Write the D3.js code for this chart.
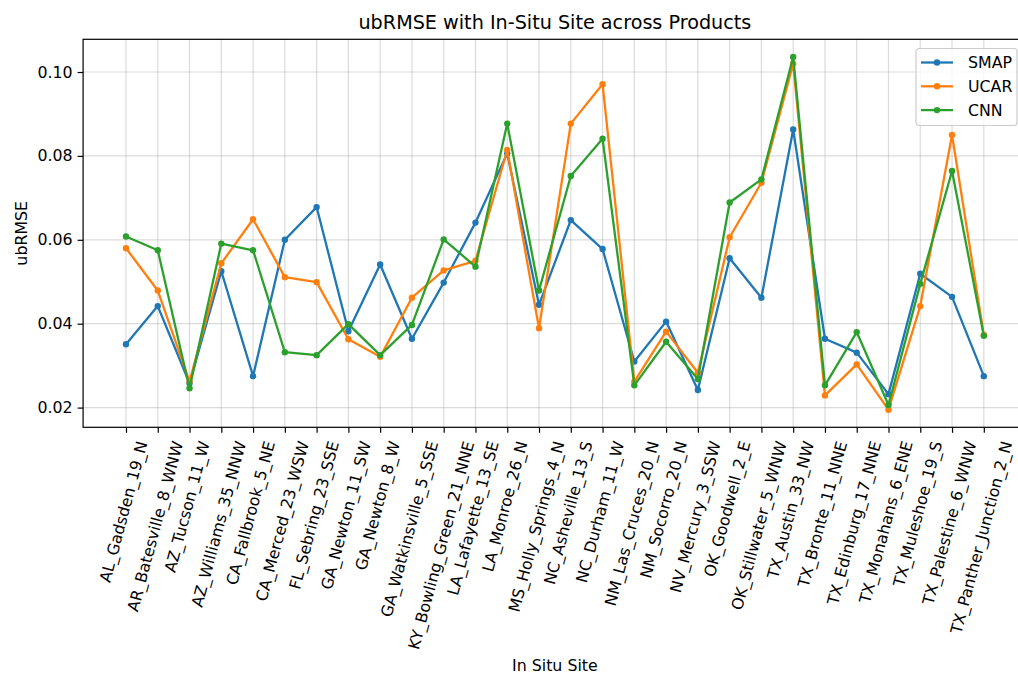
<!DOCTYPE html>
<html>
<head>
<meta charset="utf-8">
<script src="https://cdn.jsdelivr.net/npm/d3@7"></script>
<style>
body { margin: 0; background: #fff; }
text { font-family: "DejaVu Sans", sans-serif; fill: #000; }
</style>
</head>
<body>
<div id="chart"></div>
<script>
var sites = ["AL_Gadsden_19_N", "AR_Batesville_8_WNW", "AZ_Tucson_11_W", "AZ_Williams_35_NNW",
    "CA_Fallbrook_5_NE", "CA_Merced_23_WSW", "FL_Sebring_23_SSE", "GA_Newton_11_SW",
    "GA_Newton_8_W", "GA_Watkinsville_5_SSE", "KY_Bowling_Green_21_NNE", "LA_Lafayette_13_SE",
    "LA_Monroe_26_N", "MS_Holly_Springs_4_N", "NC_Asheville_13_S", "NC_Durham_11_W",
    "NM_Las_Cruces_20_N", "NM_Socorro_20_N", "NV_Mercury_3_SSW", "OK_Goodwell_2_E",
    "OK_Stillwater_5_WNW", "TX_Austin_33_NW", "TX_Bronte_11_NNE", "TX_Edinburg_17_NNE",
    "TX_Monahans_6_ENE", "TX_Muleshoe_19_S", "TX_Palestine_6_WNW", "TX_Panther_Junction_2_N"];

var smap = [0.0351, 0.0442, 0.0258, 0.0525, 0.0275, 0.0600, 0.0678, 0.0382, 0.0541, 0.0364,
    0.0498, 0.0641, 0.0806, 0.0445, 0.0647, 0.0578, 0.0310, 0.0405, 0.0242, 0.0556,
    0.0462, 0.0863, 0.0364, 0.0331, 0.0232, 0.0519, 0.0464, 0.0275];
var ucar = [0.0580, 0.0479, 0.0262, 0.0544, 0.0649, 0.0511, 0.0499, 0.0363, 0.0321, 0.0462,
    0.0527, 0.0550, 0.0814, 0.0389, 0.0877, 0.0971, 0.0262, 0.0381, 0.0283, 0.0606,
    0.0736, 0.1020, 0.0229, 0.0303, 0.0195, 0.0442, 0.0850, 0.0373];
var cnn = [0.0608, 0.0575, 0.0246, 0.0591, 0.0575, 0.0332, 0.0325, 0.0399, 0.0325, 0.0397,
    0.0601, 0.0536, 0.0877, 0.0479, 0.0752, 0.0841, 0.0253, 0.0357, 0.0268, 0.0689,
    0.0744, 0.1036, 0.0253, 0.0380, 0.0206, 0.0495, 0.0764, 0.0371];

var seriesNames = ["SMAP", "UCAR", "CNN"];
var seriesValues = [smap, ucar, cnn];
var colors = ["#1f77b4", "#ff7f0e", "#2ca02c"];
var yTicks = [0.02, 0.04, 0.06, 0.08, 0.10];

var W = 1018, H = 675;
var margin = {top: 39.3, left: 83.1};
var width = 943.6, height = 388;
var fs = 15.8;

var svg = d3.select("#chart")
    .append("svg")
        .attr("width", W)
        .attr("height", H);

var g = svg.append("g")
    .attr("transform", "translate(" + margin.left + "," + margin.top + ")");

// matplotlib style 5% padding on both axes
var xScale = d3.scaleLinear()
    .domain([-1.35, sites.length - 1 + 1.35])
    .range([0, width]);

var yScale = d3.scaleLinear()
    .domain([0.0153, 0.1078])
    .range([height, 0]);

// grid
g.append("g")
    .selectAll("line")
    .data(d3.range(sites.length))
    .enter()
    .append("line")
        .attr("x1", function(d) { return xScale(d); })
        .attr("x2", function(d) { return xScale(d); })
        .attr("y1", 0)
        .attr("y2", height)
        .attr("stroke", "#b0b0b0")
        .attr("stroke-opacity", 0.45)
        .attr("stroke-width", 1.2);

g.append("g")
    .selectAll("line")
    .data(yTicks)
    .enter()
    .append("line")
        .attr("x1", 0)
        .attr("x2", width)
        .attr("y1", function(d) { return yScale(d); })
        .attr("y2", function(d) { return yScale(d); })
        .attr("stroke", "#b0b0b0")
        .attr("stroke-opacity", 0.45)
        .attr("stroke-width", 1.2);

// lines + markers
var line = d3.line()
    .x(function(d, i) { return xScale(i); })
    .y(function(d) { return yScale(d); });

seriesValues.forEach(function(vals, k) {
    g.append("path")
        .datum(vals)
        .attr("fill", "none")
        .attr("stroke", colors[k])
        .attr("stroke-width", 2.3)
        .attr("stroke-linejoin", "round")
        .attr("d", line);

    g.append("g")
        .selectAll("circle")
        .data(vals)
        .enter()
        .append("circle")
            .attr("cx", function(d, i) { return xScale(i); })
            .attr("cy", function(d) { return yScale(d); })
            .attr("r", 3.2)
            .attr("fill", colors[k]);
});

// y axis
var yAxis = g.append("g")
    .call(d3.axisLeft(yScale).tickValues(yTicks).tickFormat(d3.format(".2f")).tickSize(5.5).tickPadding(5));
yAxis.select(".domain").remove();
yAxis.selectAll("line").attr("stroke", "#000").attr("stroke-width", 1.2);
yAxis.selectAll("text").style("font-size", fs + "px").attr("font-family", null);

// x axis
var xAxis = g.append("g")
    .attr("transform", "translate(0," + height + ")")
    .call(d3.axisBottom(xScale).tickValues(d3.range(sites.length)).tickFormat(function(i) { return sites[i]; }).tickSize(5.5));
xAxis.select(".domain").remove();
xAxis.selectAll("line").attr("stroke", "#000").attr("stroke-width", 1.2);

// rotate 75deg, bbox roughly centered on the tick like matplotlib
var a = 75 * Math.PI / 180;
xAxis.selectAll("text")
    .style("font-size", fs + "px")
    .attr("font-family", null)
    .attr("dy", null)
    .attr("y", 0)
    .attr("text-anchor", "middle")
    .attr("dominant-baseline", "central")
    .attr("transform", function() {
        var L = this.getComputedTextLength();
        var h = fs * 1.1;
        var cy = 12 + (L * Math.sin(a) + h * Math.cos(a)) / 2;
        return "translate(-3," + cy + ") rotate(-75)";
    });

// spines
g.append("rect")
    .attr("width", width)
    .attr("height", height)
    .attr("fill", "none")
    .attr("stroke", "#000")
    .attr("stroke-width", 1.2);

// labels
svg.append("text")
    .attr("x", margin.left + width / 2)
    .attr("y", 29)
    .attr("text-anchor", "middle")
    .style("font-size", "19.2px")
    .text("ubRMSE with In-Situ Site across Products");

svg.append("text")
    .attr("x", margin.left + width / 2)
    .attr("y", 671)
    .attr("text-anchor", "middle")
    .style("font-size", fs + "px")
    .text("In Situ Site");

svg.append("text")
    .attr("transform", "translate(27," + (margin.top + height / 2) + ") rotate(-90)")
    .attr("text-anchor", "middle")
    .style("font-size", fs + "px")
    .text("ubRMSE");

// legend
var legend = svg.append("g")
    .attr("transform", "translate(916,48.5)");

legend.append("rect")
    .attr("width", 101)
    .attr("height", 77)
    .attr("rx", 3)
    .attr("fill", "#fff")
    .attr("fill-opacity", 0.8)
    .attr("stroke", "#cccccc")
    .attr("stroke-width", 1.2);

var items = legend.selectAll(".item")
    .data(seriesNames)
    .enter()
    .append("g")
        .attr("transform", function(d, i) { return "translate(0," + (14 + i * 23.8) + ")"; });

items.append("line")
    .attr("x1", 5)
    .attr("x2", 37)
    .attr("stroke", function(d, i) { return colors[i]; })
    .attr("stroke-width", 2.3);

items.append("circle")
    .attr("cx", 21)
    .attr("r", 3.2)
    .attr("fill", function(d, i) { return colors[i]; });

items.append("text")
    .attr("x", 52)
    .attr("dy", "0.36em")
    .style("font-size", fs + "px")
    .text(function(d) { return d; });
</script>
</body>
</html>
